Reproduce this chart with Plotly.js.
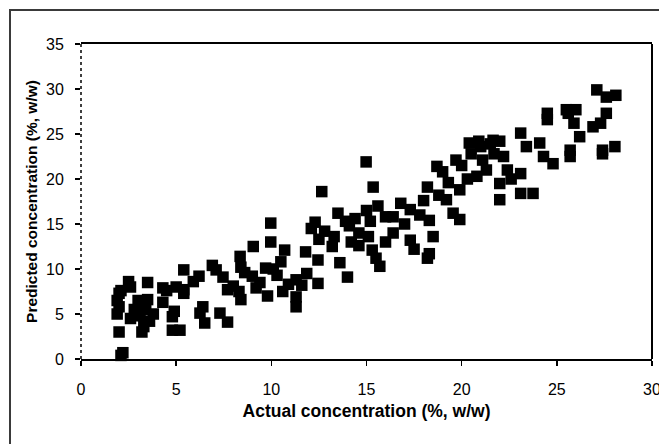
<!DOCTYPE html>
<html>
<head>
<meta charset="utf-8">
<script src="https://cdn.plot.ly/plotly-3.0.1.min.js"></script>
<style>
  html, body { margin: 0; padding: 0; background: #fff; }
  #wrap { position: relative; width: 659px; height: 444px; overflow: hidden; }
  #chart { position: absolute; left: 0; top: 0; width: 659px; height: 444px; }
  #frame { position: absolute; left: 9px; top: 9px; width: 700px; height: 500px;
           border-left: 2px solid #3a3a3a; border-top: 2px solid #3a3a3a; pointer-events: none; }
</style>
</head>
<body>
<div id="wrap">
  <div id="chart"></div>
  <div id="frame"></div>
</div>
<script>
// Actual concentration (%, w/w)
const actual = [
  2.1, 2.2, 2.0, 1.9, 2.0, 1.9, 2.0, 2.1, 2.5, 2.6, 2.6, 2.8, 3.0, 3.2, 3.3, 3.1, 3.4, 3.5, 3.5, 3.8,
  3.6, 4.3, 4.3, 4.5, 4.8, 4.9, 5.2, 4.8, 5.0, 5.4, 5.4, 5.4, 5.9, 6.2, 6.4, 6.25, 6.5, 6.9, 7.1, 7.46,
  7.3, 7.7, 7.7, 8.0, 8.4, 8.3, 8.36, 8.4, 9.05, 8.6, 9.0, 9.4, 9.2, 9.7, 9.8, 9.97, 9.97, 10.7, 10.5, 10.1,
  10.3, 10.9, 10.6, 11.3, 11.3, 11.3, 11.6, 11.8, 11.86, 12.1, 12.5, 12.3, 12.65, 12.45, 12.45, 12.8, 13.2, 13.5, 13.6, 13.3,
  14.0, 14.1, 14.4, 14.6, 14.2, 14.6, 13.9, 14.98, 15.35, 15.0, 15.2, 15.1, 15.3, 15.7, 15.5, 15.6, 16.0, 16.4, 16.4, 16.0,
  16.8, 17.3, 17.3, 17.0, 17.5, 18.2, 18.3, 18.3, 18.2, 18.5, 18.7, 18.0, 17.8, 19.2, 19.55, 19.9, 19.7, 19.0, 19.3, 18.8,
  20.4, 20.8, 21.1, 21.0, 21.3, 21.65, 20.0, 20.3, 20.5, 21.7, 22.0, 22.0, 22.2, 22.4, 22.0, 23.1, 23.1, 23.1, 23.4, 23.75,
  22.6, 24.1, 24.3, 24.5, 24.5, 24.8, 25.5, 26.0, 25.9, 26.2, 25.7, 25.7, 25.6, 27.1, 27.6, 28.1, 27.6, 27.3, 27.4, 27.4,
  28.05, 26.9, 19.9, 20.9, 21.5
];
// Predicted concentration (%, w/w)
const predicted = [
  0.4, 0.7, 3.0, 5.0, 5.8, 6.5, 7.3, 7.6, 8.6, 8.0, 4.5, 5.5, 6.5, 3.0, 3.6, 4.8, 5.5, 6.6, 8.5, 5.0,
  4.2, 7.9, 6.3, 7.6, 4.7, 5.3, 3.2, 3.2, 8.0, 7.7, 9.9, 7.3, 8.6, 9.2, 5.8, 5.1, 4.0, 10.4, 9.9, 9.1,
  5.1, 4.1, 7.7, 8.1, 6.6, 7.5, 11.4, 10.2, 12.5, 9.6, 9.2, 8.5, 7.9, 10.1, 7.0, 15.1, 13.0, 12.1, 10.8, 10.0,
  9.3, 8.3, 7.5, 5.8, 6.9, 8.8, 8.2, 11.9, 9.5, 14.5, 13.3, 15.2, 18.6, 11.0, 8.4, 14.2, 12.5, 16.2, 10.7, 13.6,
  9.1, 14.8, 15.6, 14.0, 13.0, 12.6, 15.3, 21.9, 19.1, 16.5, 15.3, 13.6, 12.1, 10.3, 11.2, 17.0, 15.8, 15.8, 14.0, 13.0,
  17.3, 13.2, 16.6, 15.0, 12.2, 19.1, 15.4, 11.7, 11.2, 13.6, 21.4, 17.6, 16.0, 17.7, 16.2, 18.8, 22.1, 20.8, 19.6, 18.2,
  24.0, 20.3, 22.1, 23.6, 21.0, 24.3, 21.5, 20.0, 22.8, 22.8, 17.7, 19.5, 22.5, 21.0, 24.2, 25.1, 20.6, 18.4, 23.6, 18.4,
  20.0, 24.0, 22.5, 27.3, 26.6, 21.7, 27.7, 27.7, 26.2, 24.7, 22.5, 23.2, 27.3, 29.9, 29.1, 29.3, 27.3, 26.2, 23.2, 22.8,
  23.6, 25.8, 15.5, 24.2, 23.9
];
const xTicks = [0, 5, 10, 15, 20, 25, 30];
const yTicks = [0, 5, 10, 15, 20, 25, 30, 35];

const fontFam = 'Liberation Sans, Arial, sans-serif';

const trace = {
  x: actual,
  y: predicted,
  type: 'scatter',
  mode: 'markers',
  marker: { symbol: 'square', size: 11.5, color: '#000000', line: { width: 0 } },
  hoverinfo: 'x+y',
  showlegend: false,
  cliponaxis: false
};

const layout = {
  width: 659,
  height: 444,
  margin: { l: 81, r: 7, t: 44, b: 85, pad: 0 },
  paper_bgcolor: 'rgba(0,0,0,0)',
  plot_bgcolor: '#ffffff',
  font: { family: fontFam, size: 16, color: '#000' },
  xaxis: {
    range: [0, 30],
    tickvals: xTicks,
    ticktext: xTicks.map(String),
    ticks: 'outside',
    ticklen: 5,
    tickwidth: 1.5,
    tickcolor: '#000',
    ticklabelstandoff: 10,
    ticklabeloverflow: 'allow',
    showgrid: false,
    zeroline: false,
    showline: true,
    mirror: true,
    linewidth: 2,
    linecolor: '#000',
    tickfont: { family: fontFam, size: 16, color: '#000' },
    title: { text: 'Actual concentration (%, w/w)', font: { family: fontFam, size: 17.5, color: '#000', weight: 'bold' }, standoff: 8 },
    automargin: false,
    fixedrange: true
  },
  yaxis: {
    range: [0, 35],
    tickvals: yTicks,
    ticktext: yTicks.map(String),
    ticks: 'outside',
    ticklen: 5,
    tickwidth: 1.5,
    tickcolor: '#000',
    ticklabelstandoff: 8,
    showgrid: false,
    zeroline: false,
    showline: false,
    tickfont: { family: fontFam, size: 16, color: '#000' },
    title: { text: 'Predicted concentration (%, w/w)', font: { family: fontFam, size: 15.5, color: '#000', weight: 'bold' }, standoff: 4 },
    automargin: false,
    fixedrange: true
  },
  shapes: [
    { type: 'line', xref: 'paper', yref: 'paper', x0: 1, x1: 1, y0: 0, y1: 1, line: { color: '#000', width: 2 } },
    { type: 'line', xref: 'paper', yref: 'paper', x0: 0, x1: 0, y0: 0, y1: 1, line: { color: '#000', width: 1.5, dash: 'dot' } }
  ]
};

Plotly.newPlot('chart', [trace], layout, { staticPlot: true, displayModeBar: false });
</script>
</body>
</html>
